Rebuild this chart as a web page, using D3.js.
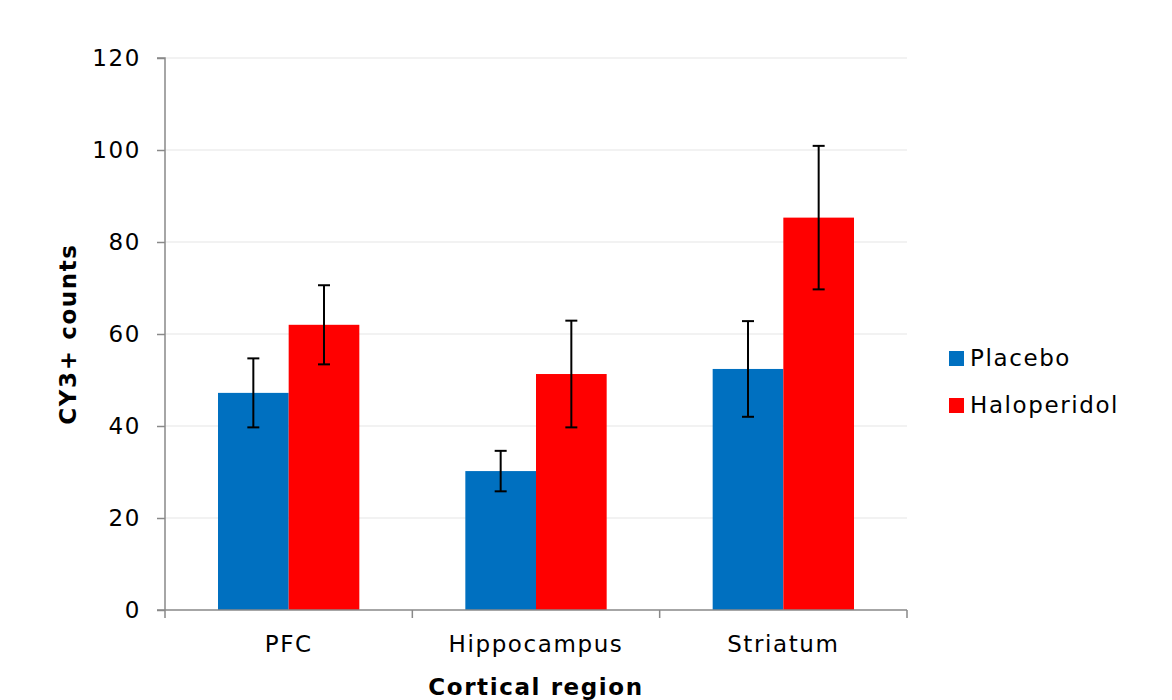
<!DOCTYPE html>
<html lang="en">
<head>
  <meta charset="UTF-8">
  <title>CY3+ counts by cortical region</title>
  <script src="https://d3js.org/d3.v7.min.js"></script>
  <style>
    body { margin: 0; background: #fff; }
    text { font-family: "DejaVu Sans", Verdana, sans-serif; fill: #000; letter-spacing: 1.6px; }
  </style>
</head>
<body>
  <svg width="1172" height="700"></svg>

  <script>
    // values
    const regions = ["PFC", "Hippocampus", "Striatum"];
    const groups = ["Placebo", "Haloperidol"];
    const placebo = [47.2, 30.2, 52.4];
    const haloperidol = [62.0, 51.3, 85.3];
    const placeboErr = [7.5, 4.4, 10.4];
    const haloperidolErr = [8.6, 11.6, 15.6];
    const yTicks = [0, 20, 40, 60, 80, 100, 120];
    const colors = ["#0070c0", "#ff0000"];

    const rows = regions.map((r, i) => ({
      region: r,
      bars: [
        { group: groups[0], value: placebo[i], err: placeboErr[i] },
        { group: groups[1], value: haloperidol[i], err: haloperidolErr[i] }
      ]
    }));

    const svg = d3.select("svg");
    const margin = { left: 165, right: 265, top: 58, bottom: 90 };
    const width = 1172, height = 700;
    const fs = 23;

    const x = d3.scaleBand()
        .domain(regions)
        .range([margin.left, width - margin.right])
        .paddingInner(0)
        .paddingOuter(0);

    const inner = d3.scaleBand()
        .domain(groups)
        .range([0, x.bandwidth()])
        .paddingOuter(0.75);

    const y = d3.scaleLinear()
        .domain([0, 120])
        .range([height - margin.bottom, margin.top]);

    // gridlines
    svg.append("g")
      .selectAll("line")
      .data(yTicks.slice(1))
      .enter().append("line")
        .attr("x1", margin.left)
        .attr("x2", width - margin.right)
        .attr("y1", d => y(d))
        .attr("y2", d => y(d))
        .attr("stroke", "#eeeeee")
        .attr("stroke-width", 1.5);

    // bars
    const g = svg.append("g")
      .selectAll("g")
      .data(rows)
      .enter().append("g")
        .attr("transform", d => `translate(${x(d.region)},0)`);

    g.selectAll("rect")
      .data(d => d.bars)
      .enter().append("rect")
        .attr("x", d => inner(d.group))
        .attr("y", d => y(d.value))
        .attr("width", inner.bandwidth())
        .attr("height", d => y(0) - y(d.value))
        .attr("fill", (d, i) => colors[i]);

    // error bars
    const cap = 6;
    const eb = g.selectAll("g.err")
      .data(d => d.bars)
      .enter().append("g")
        .attr("class", "err")
        .attr("stroke", "#000")
        .attr("stroke-width", 2);

    eb.append("line")
        .attr("x1", d => inner(d.group) + inner.bandwidth() / 2)
        .attr("x2", d => inner(d.group) + inner.bandwidth() / 2)
        .attr("y1", d => y(d.value - d.err))
        .attr("y2", d => y(d.value + d.err));
    [1, -1].forEach(s => {
      eb.append("line")
          .attr("x1", d => inner(d.group) + inner.bandwidth() / 2 - cap)
          .attr("x2", d => inner(d.group) + inner.bandwidth() / 2 + cap)
          .attr("y1", d => y(d.value + s * d.err))
          .attr("y2", d => y(d.value + s * d.err));
    });

    // y axis
    const yAxis = svg.append("g")
        .attr("transform", `translate(${margin.left},0)`)
        .call(d3.axisLeft(y).tickValues(yTicks).tickSize(8).tickPadding(16));
    yAxis.selectAll("line, path").attr("stroke", "#898989").attr("stroke-width", 1.5);
    yAxis.select(".domain").attr("d", `M-8,${y(120)}H0V${y(0)}`);
    yAxis.selectAll("text").attr("font-size", fs).style("font-family", "DejaVu Sans");

    // x axis
    const xAxis = svg.append("g")
        .attr("transform", `translate(0,${y(0)})`)
        .call(d3.axisBottom(x).tickSize(0).tickPadding(26));
    xAxis.selectAll("text").attr("font-size", fs).style("font-family", "DejaVu Sans");
    xAxis.selectAll("line, path").attr("stroke", "#898989").attr("stroke-width", 1.5);
    xAxis.select(".domain").attr("d", `M${margin.left - 8},0H${width - margin.right}`);
    xAxis.selectAll("line.sep")
      .data(regions.concat(["end"]))
      .enter().append("line")
        .attr("class", "sep")
        .attr("x1", (d, i) => margin.left + i * x.step())
        .attr("x2", (d, i) => margin.left + i * x.step())
        .attr("y1", 0)
        .attr("y2", 8)
        .attr("stroke", "#898989")
        .attr("stroke-width", 1.5);

    // axis titles
    svg.append("text")
        .attr("x", (margin.left + width - margin.right) / 2)
        .attr("y", 695)
        .attr("text-anchor", "middle")
        .attr("font-size", fs)
        .attr("font-weight", "bold")
        .text("Cortical region");

    svg.append("text")
        .attr("transform", `translate(76,${y(60)}) rotate(-90)`)
        .attr("text-anchor", "middle")
        .attr("font-size", fs)
        .attr("font-weight", "bold")
        .text("CY3+ counts");

    // legend
    const legend = svg.append("g")
      .selectAll("g")
      .data(groups)
      .enter().append("g")
        .attr("transform", (d, i) => `translate(949,${351 + i * 47})`);
    legend.append("rect")
        .attr("width", 15)
        .attr("height", 15)
        .attr("fill", (d, i) => colors[i]);
    legend.append("text")
        .attr("x", 21)
        .attr("y", 15)
        .attr("font-size", fs)
        .text(d => d);
  </script>
</body>
</html>
